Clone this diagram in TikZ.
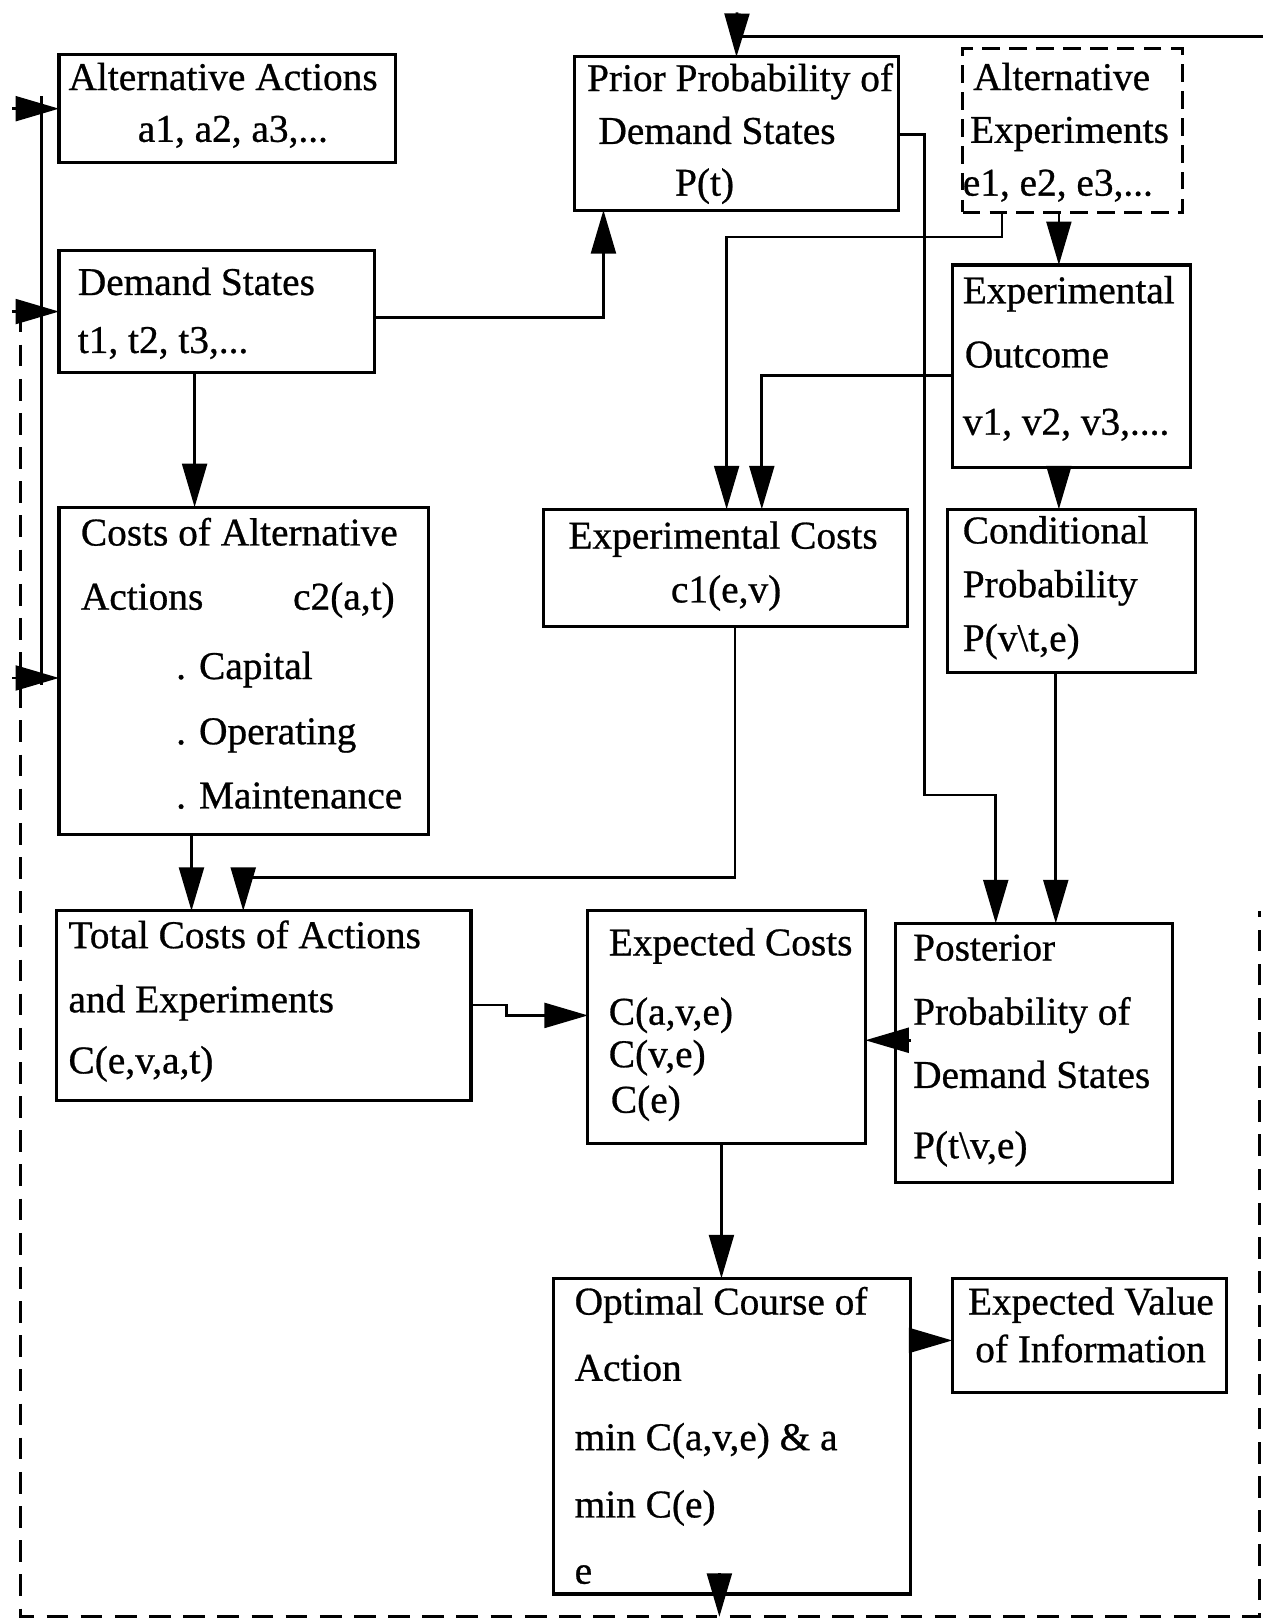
\documentclass[tikz,border=0pt]{standalone}
\usepackage{fontspec}
\setmainfont[FakeBold=0.7]{Liberation Serif}
\usetikzlibrary{arrows.meta,calc}

\newcommand\fsz{\fontsize{38}{40}\selectfont}
% one line of box text, placed by its baseline
\newcommand\boxline[4]{\node[txt] (#1) at (#2,#3) {#4};}

\begin{document}
\begin{tikzpicture}[x=1pt,y=-1pt,
  box/.style={draw, line width=3pt, rectangle, inner sep=0pt, outer sep=0pt, anchor=north west},
  dbox/.style={box, dash pattern=on 17pt off 9pt},
  conn/.style={line width=2.6pt},
  arr/.style={conn, -{Triangle[length=42pt,width=24pt]}},
  loopline/.style={line width=3pt, dash pattern=on 21pt off 12pt},
  txt/.style={inner sep=0pt, anchor=base west, font=\fsz}]

\useasboundingbox (0,0) rectangle (1220,1568);

% ---- boxes ----
\node[box, minimum width=325, minimum height=104] (aa) at (57,53) {};
\node[box, minimum width=313, minimum height=148] (prior) at (555,55) {};
\node[dbox, minimum width=212, minimum height=158] (altexp) at (930,47) {};
\node[box, minimum width=305, minimum height=118] (demand) at (57,242) {};
\node[box, minimum width=230, minimum height=196] (outcome) at (920,256) {};
\node[box, minimum width=357, minimum height=316] (costs) at (57,490) {};
\node[box, minimum width=352, minimum height=113] (expcost) at (525,492) {};
\node[box, minimum width=240, minimum height=158] (cond) at (915,492) {};
\node[box, minimum width=400, minimum height=183] (total) at (55,880) {};
\node[box, minimum width=268, minimum height=225] (expected) at (568,880) {};
\node[box, minimum width=268, minimum height=250] (post) at (865,892) {};
\node[box, minimum width=345, minimum height=305] (optimal) at (535,1235) {};
\node[box, minimum width=265, minimum height=110] (evi) at (920,1235) {};

% ---- box texts ----
\boxline{aa1}{66}{87}{Alternative Actions}
\boxline{aa2}{133}{137}{a1, a2, a3,...}

\boxline{pr1}{567}{88}{Prior Probability of}
\boxline{pr2}{578}{139}{Demand States}
\boxline{pr3}{652}{189}{P(t)}

\boxline{ae1}{940}{87}{Alternative}
\boxline{ae2}{937}{138}{Experiments}
\boxline{ae3}{930}{189}{e1, e2, e3,...}

\boxline{ds1}{75}{285}{Demand States}
\boxline{ds2}{75}{341}{t1, t2, t3,...}

\boxline{eo1}{930}{293}{Experimental}
\boxline{eo2}{932}{355}{Outcome}
\boxline{eo3}{930}{420}{v1, v2, v3,....}

\boxline{ca1}{78}{527}{Costs of Alternative}
\boxline{ca2}{78}{589}{Actions}
\boxline{ca3}{283}{589}{c2(a,t)}
\boxline{ca4}{170}{656}{. Capital}
\boxline{ca5}{170}{719}{. Operating}
\boxline{ca6}{170}{781}{. Maintenance}

\boxline{ec1}{549}{530}{Experimental Costs}
\boxline{ec2}{648}{582}{c1(e,v)}

\boxline{cp1}{930}{525}{Conditional}
\boxline{cp2}{930}{577}{Probability}
\boxline{cp3}{930}{629}{P(v\textbackslash t,e)}

\boxline{tc1}{66}{916}{Total Costs of Actions}
\boxline{tc2}{66}{978}{and Experiments}
\boxline{tc3}{66}{1037}{C(e,v,a,t)}

\boxline{xc1}{588}{923}{Expected Costs}
\boxline{xc2}{588}{990}{C(a,v,e)}
\boxline{xc3}{588}{1031}{C(v,e)}
\boxline{xc4}{590}{1075}{C(e)}

\boxline{pp1}{882}{928}{Posterior}
\boxline{pp2}{882}{990}{Probability of}
\boxline{pp3}{882}{1051}{Demand States}
\boxline{pp4}{882}{1119}{P(t\textbackslash v,e)}

\boxline{oc1}{555}{1270}{Optimal Course of}
\boxline{oc2}{555}{1334}{Action}
\boxline{oc3}{555}{1401}{min C(a,v,e) \& a}
\boxline{oc4}{555}{1466}{min C(e)}
\boxline{oc5}{555}{1530}{e}

\boxline{ev1}{935}{1270}{Expected Value}
\boxline{ev2}{942}{1316}{of Information}

% ---- connectors ----
\draw[arr] ($(demand.north east)+(0,65)$) -| ($(prior.south west)+(28,0)$);
\draw[arr] ($(demand.south west)+(131,0)$) -- ($(costs.north west)+(131,0)$);
\draw[arr] ($(prior.north east)+(0,75)$) -| (893,768) -| ($(post.north west)+(97,0)$);
\draw[arr] ($(altexp.south west)+(38,0)$) |- (702,229) -- ($(expcost.north west)+(177,0)$);
\draw[arr] ($(altexp.south west)+(93,0)$) -- ($(outcome.north west)+(103,0)$);
\draw[arr] ($(outcome.north west)+(0,107)$) -| ($(expcost.north west)+(211,0)$);
\draw[arr] ($(outcome.south west)+(103,0)$) -- ($(cond.north west)+(108,0)$);
\draw[arr] ($(cond.south west)+(105,0)$) -- ($(post.north west)+(155,0)$);
\draw[arr] ($(costs.south west)+(128,0)$) -- ($(total.north west)+(130,0)$);
\draw[arr] ($(expcost.south west)+(185,0)$) |- (235,848) -- ($(total.north west)+(180,0)$);
\draw[arr] ($(total.north east)+(0,91)$) -- (489,971) |- ($(expected.north west)+(0,101)$);
\draw[arr] ($(post.north west)+(15,113)$) -- ($(expected.north east)+(0,125)$);
\draw[arr] ($(expected.south west)+(129,0)$) -- ($(optimal.north west)+(162,0)$);
\draw[arr] ($(optimal.north east)+(0,60)$) -- ($(evi.north west)+(0,60)$);

% ---- feedback loop ----
\coordinate (loopS) at (695,1562);
\coordinate (loopBL) at (20,1562);
\coordinate (loopBR) at (1217,1562);
\coordinate (loopRT) at (1217,880);
\coordinate (loopLT) at (20,300);
\draw[arr] ($(optimal.south west)+(160,-20)$) -- (loopS);
\draw[loopline] (loopLT) -- (loopBL) -- (loopBR) -- (loopRT);

% top return line into the prior probabilities
\coordinate (topR) at (1220,35);
\coordinate (topL) at (712,35);
\coordinate (topA) at (712,12);
\draw[conn] (topR) -- (topL);
\draw[arr] (topA) -- (prior.north);

% left return line feeding the action boxes
\coordinate (leftT) at (40,93);
\coordinate (leftB) at (40,662);
\coordinate (inA) at (12,105);
\coordinate (inD) at (12,301);
\coordinate (inC) at (12,655);
\draw[conn] (leftT) -- (leftB);
\draw[arr] (inA) -- (aa.west);
\draw[arr] (inD) -- (demand.west);
\draw[arr] (inC) -- ($(costs.north west)+(0,165)$);
\end{tikzpicture}
\end{document}
